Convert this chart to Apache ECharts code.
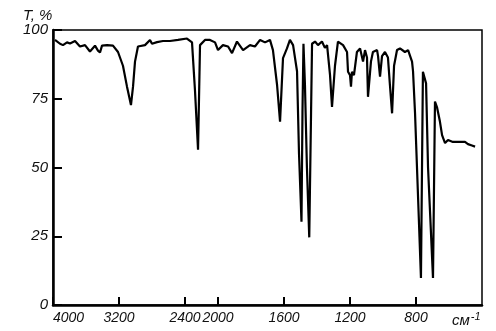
<!DOCTYPE html>
<html><head><meta charset="utf-8">
<script src="https://cdn.jsdelivr.net/npm/echarts@6/dist/echarts.min.js"></script>
<style>html,body{margin:0;padding:0;background:#fff}#c{width:496px;height:331px}</style>
</head><body><div id="c"></div>
<script>
const wavenumbers = [3976,3915,3879,3830,3794,3733,3673,3612,3552,3491,
3455,3430,3406,3345,3273,3212,3152,3103,3079,3055,
3030,3006,2970,2885,2824,2800,2739,2667,2582,2485,
2376,2315,2279,2242,2218,2158,2097,2036,2000,1970,
1939,1915,1885,1848,1806,1776,1745,1715,1685,1667,
1642,1624,1606,1582,1564,1545,1521,1509,1494,1488,
1482,1473,1461,1447,1436,1430,1412,1394,1370,1352,
1339,1321,1309,1291,1273,1242,1218,1212,1200,1194,
1188,1176,1158,1139,1121,1109,1097,1091,1073,1061,
1036,1030,1018,1006,988,970,958,945,933,915,
897,867,848,824,818,806,788,770,758,739,
727,697,685,673,655,642,624,606,576,533,
503,485,461,442];
const transmittance = [96.4,95,94.5,95.5,95.1,96,94,94.5,92.2,94.3,
92.5,91.8,94.3,94.5,94.3,92,87,79.4,79,72.7,
79.4,88.5,94,94.5,96.4,95,95.6,96,96,96.4,
96.9,95.5,78,56.5,94.5,96.4,96.4,95.5,92.7,94.5,
94,91.6,95.8,92.7,94.5,94,96.4,95.5,96.4,92.7,
80,66.7,89.8,93.3,96.4,94.5,85,55,30.3,70,
95,80,50,24.6,70,95,95.8,94.5,95.8,93.5,
94.5,83.6,72,87,95.8,94.5,92,84.8,83.6,79.4,
84.8,83.6,92,93.3,88.5,92.7,90,75.7,88.5,92,
92.7,90.5,83,90.5,92,90,80,69.7,87,92.7,
93.3,92,92.7,88.5,85,70,40,9.8,84.8,80.6,
50,9.8,74,72,66.7,61.8,58.9,60,59.3,59.3,
59.3,58.5,58,57.6];
const xTickLabels = [4000,3200,2400,2000,1600,1200,800];
const yTickLabels = [0,25,50,75,100];
const xRange = [4000,400];

// Spectrometer axis: scale doubles below 2000 cm-1
function toPos(w){ return w >= 2000 ? (4000 - w) / 2 : 1000 + (2000 - w); }
function toW(p){ return p <= 1000 ? 4000 - 2 * p : 2000 - (p - 1000); }

const data = wavenumbers.map((w, i) => [toPos(w), transmittance[i]]);
const xTicks = xTickLabels.map(toPos);

const chart = echarts.init(document.getElementById('c'), null, {renderer:'canvas'});
const font = '"Liberation Sans", Arial, sans-serif';
chart.setOption({
  animation:false,
  backgroundColor:'#fff',
  grid:{left:53,right:14,top:30,bottom:26,show:true,borderColor:'#000',borderWidth:1.5},
  xAxis:{type:'value',min:toPos(xRange[0]),max:toPos(xRange[1]),
    axisLine:{show:true,onZero:false,lineStyle:{color:'#000',width:2.5}},
    axisTick:{show:true,inside:true,length:8,customValues:xTicks,lineStyle:{color:'#000',width:2}},
    axisLabel:{customValues:xTicks,formatter:v=>String(Math.round(toW(v))),color:'#111',
      fontStyle:'italic',fontSize:14,fontFamily:font,margin:6,alignMinLabel:'left'},
    splitLine:{show:false}},
  yAxis:{type:'value',min:0,max:100,interval:25,
    axisLine:{show:true,lineStyle:{color:'#000',width:2.5}},
    axisTick:{show:true,inside:true,length:9,lineStyle:{color:'#000',width:2}},
    axisLabel:{color:'#111',fontStyle:'italic',fontSize:15,fontFamily:font,margin:5,
      formatter:v=>yTickLabels.includes(v)?String(v):''},
    splitLine:{show:false}},
  graphic:[
    {type:'text',left:23,top:8,style:{text:'T, %',fill:'#111',font:'italic 15px '+font}},
    {type:'text',left:452,top:311,style:{text:'см{s|-1}',fill:'#111',font:'italic 15px '+font,
      rich:{s:{fontSize:11,fontStyle:'italic',fontFamily:font,verticalAlign:'top',padding:[0,0,8,1]}}}}
  ],
  series:[{type:'line',data:data,showSymbol:false,smooth:false,
    lineStyle:{color:'#000',width:2.2},itemStyle:{color:'#000'}}]
});
</script></body></html>
